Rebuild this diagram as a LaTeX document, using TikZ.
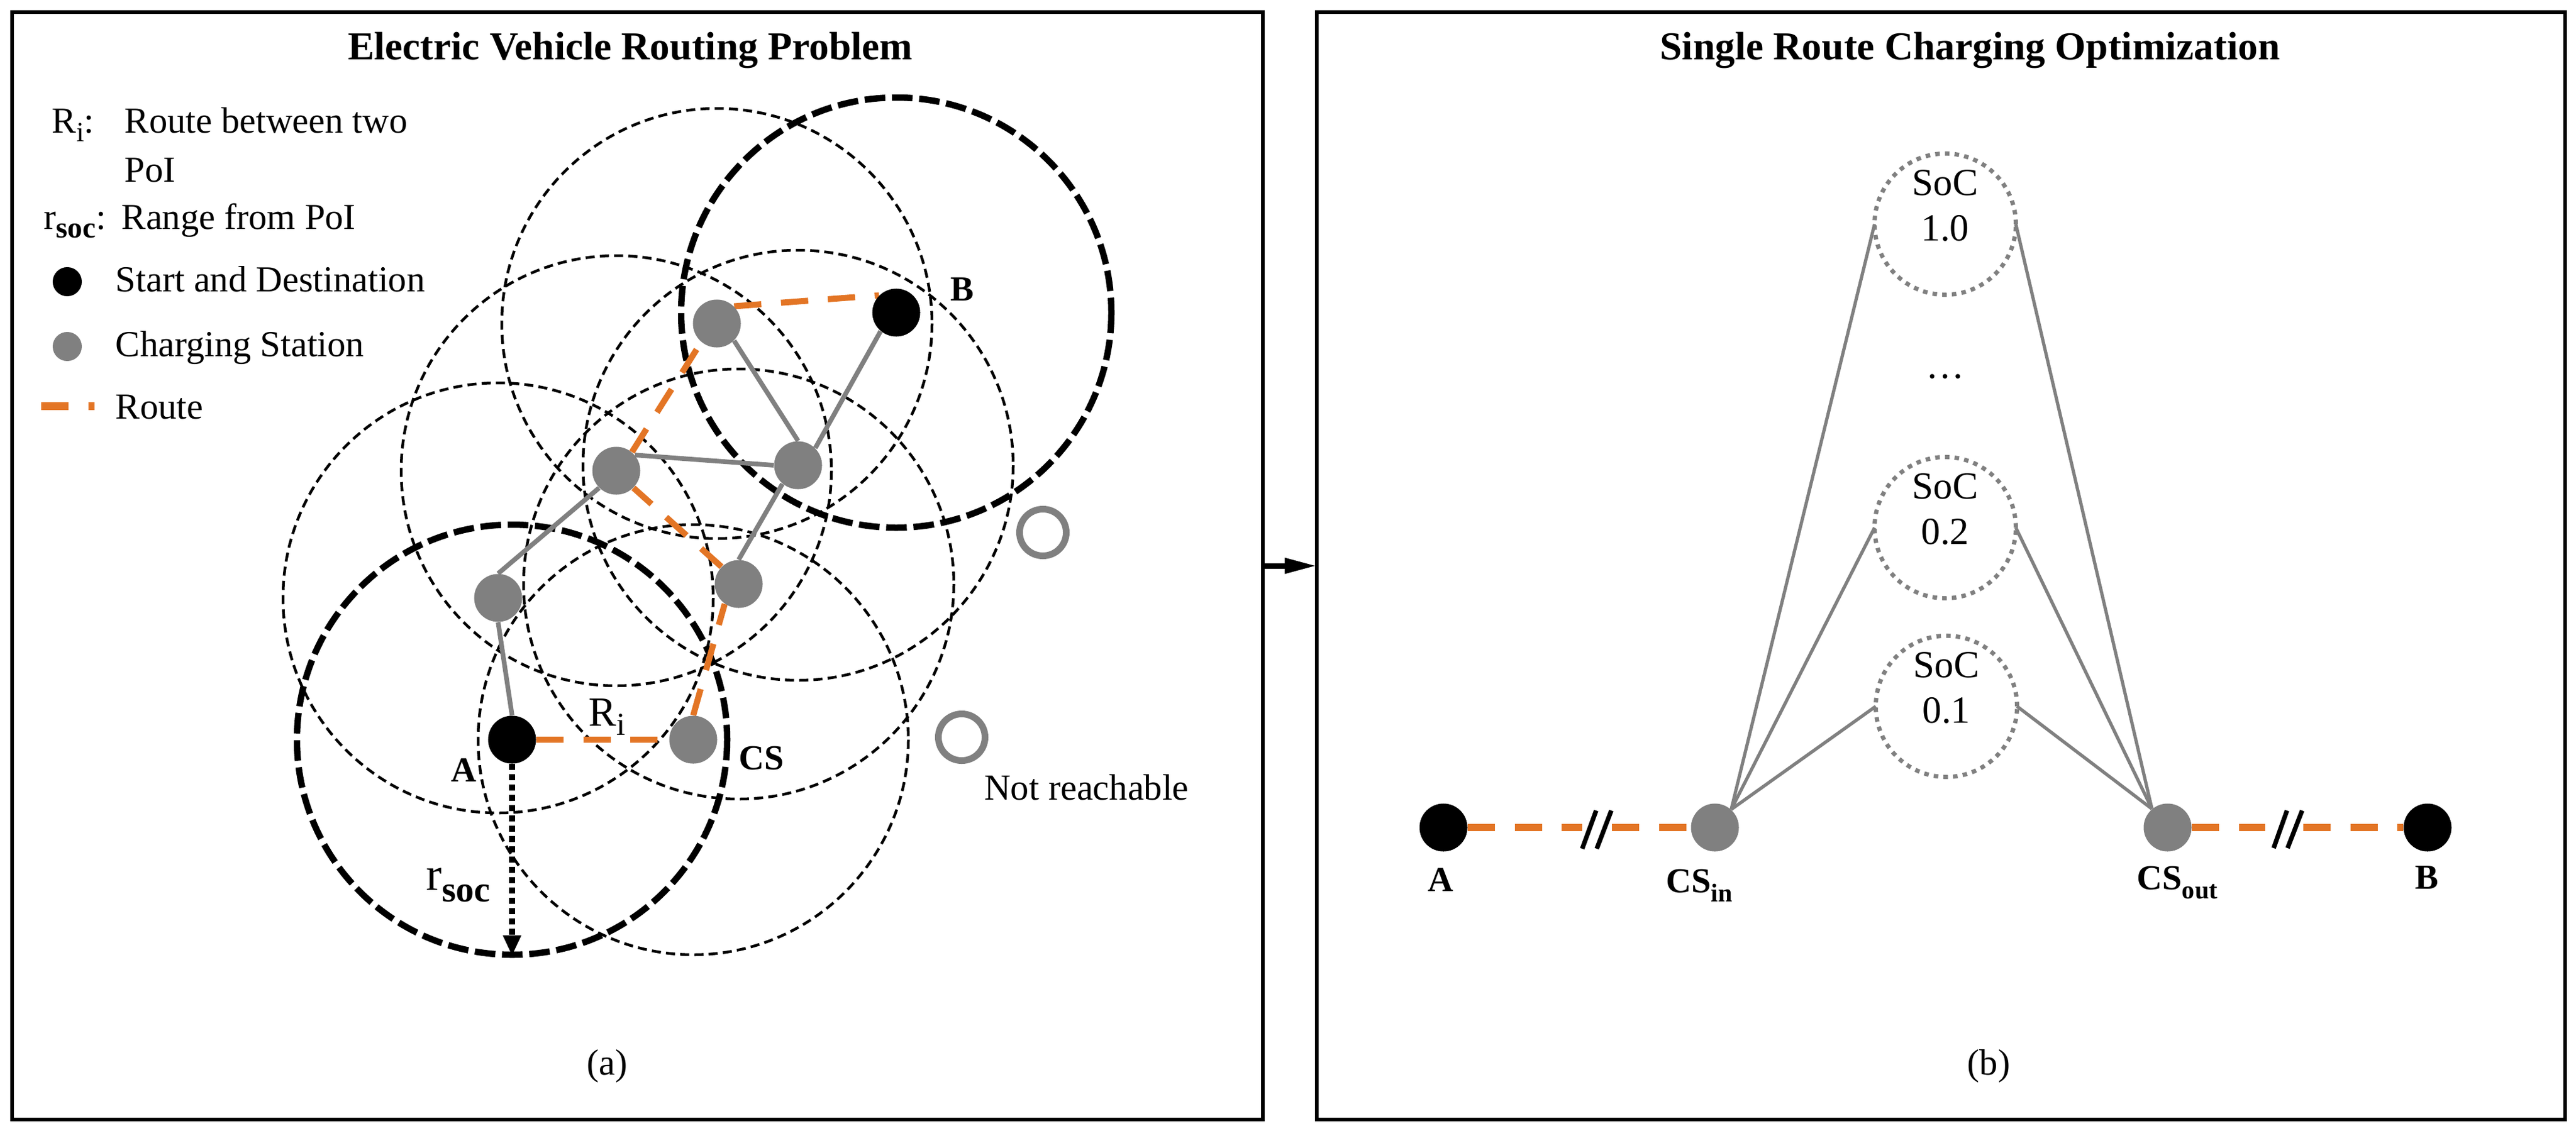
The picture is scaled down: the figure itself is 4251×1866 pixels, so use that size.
\documentclass[tikz,border=0pt]{standalone}
\usepackage{fontspec}
\setmainfont{Liberation Serif}
\usetikzlibrary{arrows.meta,calc,backgrounds}
\definecolor{routeorange}{RGB}{227,117,37}
\definecolor{csgray}{RGB}{128,128,128}
\newcommand{\sizeat}[1]{\fontsize{#1}{#1}\selectfont}
\begin{document}
\begin{tikzpicture}[x=0.01cm,y=-0.01cm,
 panel/.style={draw=black,line width=0.06cm,inner sep=0pt,outer sep=0pt},
 flow/.style={line width=0.09cm,-{Triangle[length=0.53cm,width=0.24cm]}},
 thinring/.style={draw=black,line width=0.045cm,dash pattern=on 0.15cm off 0.085cm},
 thickring/.style={draw=black,line width=0.105cm,dash pattern=on 0.34cm off 0.11cm},
 poi/.style={circle,fill=black,inner sep=0pt,minimum size=0.79cm},
 station/.style={circle,fill=csgray,inner sep=0pt,minimum size=0.79cm},
 keydot/.style={circle,inner sep=0pt,minimum size=0.48cm},
 link/.style={draw=csgray,line width=0.077cm},
 route/.style={draw=routeorange,line width=0.10cm,dash pattern=on 0.45cm off 0.325cm},
 routeb/.style={route,line width=0.12cm},
 socnode/.style={circle,draw=csgray,line width=0.07cm,dash pattern=on 0.075cm off 0.085cm,minimum size=2.33cm,inner sep=0pt,outer sep=0pt},
 soclink/.style={draw=csgray,line width=0.054cm},
 brk/.style={draw=black,line width=0.075cm},
 unreach/.style={circle,draw=csgray,line width=0.11cm,minimum size=0.77cm,inner sep=0pt},
 rsoc/.style={draw=black,line width=0.105cm,dash pattern=on 0.1cm off 0.07cm,-{Triangle[length=0.34cm,width=0.28cm]}},
 txt/.style={font=\sizeat{17.2pt},inner sep=0pt},
 soctxt/.style={font=\sizeat{18pt},inner sep=0pt,anchor=base},
 lbl/.style={font=\sizeat{16.5pt}\bfseries,inner sep=0pt,anchor=base},
 ttl/.style={font=\sizeat{18.6pt}\bfseries,inner sep=0pt,anchor=base}
]
\useasboundingbox (0,0) rectangle (4251,1866);

% panels
\node[panel,minimum width=20.635cm,minimum height=18.265cm] (pa) at (1052,934) {};
\node[panel,minimum width=20.585cm,minimum height=18.265cm] (pb) at (3203,934) {};
\draw[flow] (pa.east) -- (pb.west);

% titles
\node[ttl] (t1) at (1040,98) {Electric Vehicle Routing Problem};
\node[ttl] (t2) at (3251,98) {Single Route Charging Optimization};

% legend
\node[txt,anchor=base west] (kR) at (85,219) {R\raisebox{-4pt}{\sizeat{13pt}i}:};
\node[txt,anchor=base west] (kRt) at (205,219) {Route between two};
\node[txt,anchor=base west] (kRt2) at (205,300) {PoI};
\node[txt,anchor=base west] (kr) at (72,378) {r\raisebox{-4pt}{\sizeat{14pt}\bfseries soc}:};
\node[txt,anchor=base west] (krt) at (200,378) {Range from PoI};
\node[keydot,fill=black] (kd1) at (111,465) {};
\node[txt,anchor=base west] (kd1t) at (190,481) {Start and Destination};
\node[keydot,fill=csgray] (kd2) at (111,572) {};
\node[txt,anchor=base west] (kd2t) at (190,588) {Charging Station};
\coordinate (kl1) at (68,670);
\coordinate (kl2) at (156,670);
\draw[route,line width=0.13cm] (kl1) -- (kl2);
\node[txt,anchor=base west] (klt) at (190,691) {Route};

% panel (a) positions
\coordinate (pA) at (845,1221);
\coordinate (pCS) at (1144,1221);
\coordinate (pLG) at (822,987);
\coordinate (pCL) at (1017,777);
\coordinate (pTG) at (1183,534);
\coordinate (pB) at (1479,516);
\coordinate (pRG) at (1317,768);
\coordinate (pLR) at (1219,964);

\node[poi] (A) at (pA) {};
\node[station] (CS) at (pCS) {};
\node[station] (lg) at (pLG) {};
\node[station] (cl) at (pCL) {};
\node[station] (tg) at (pTG) {};
\node[poi] (B) at (pB) {};
\node[station] (rg) at (pRG) {};
\node[station] (lr) at (pLR) {};

\node[unreach] (u1) at (1721,879) {};
\node[unreach] (u2) at (1587,1217) {};

\begin{pgfonlayer}{background}
\foreach \p in {pCS,pLG,pCL,pTG,pRG,pLR} \draw[thinring] (\p) circle[radius=355];
\foreach \p in {pA,pB} \draw[thickring] (\p) circle[radius=355];
\draw[link] (A.north) -- (lg.south);
\draw[link] (lg.north) -- (cl.225);
\draw[link] (cl.40) -- (rg.west);
\draw[link] (tg.-45) -- (rg.north);
\draw[link] (rg.45) -- (B.230);
\draw[link] (rg.230) -- (lr.north);
\draw[route] (A.east) -- (CS.west);
\draw[route] (CS.north) -- (lr.235);
\draw[route] (lr.135) -- (cl.-45);
\draw[route] (cl.50) -- (tg.230);
\draw[route] (tg.45) -- (B.135);
\end{pgfonlayer}

\coordinate (rsocend) at (845,1578);
\draw[rsoc] (A.south) -- (rsocend);

% panel (a) labels
\node[lbl] (lA) at (765,1290) {A};
\node[lbl] (lCS) at (1257,1270) {CS};
\node[lbl] (lB) at (1588,496) {B};
\node[txt,anchor=base west,font=\sizeat{19.5pt}] (lRi) at (971,1198) {R\raisebox{-4.5pt}{\sizeat{15pt}i}};
\node[txt,anchor=base west,font=\sizeat{22pt}] (lrs) at (703,1469) {r\raisebox{-5.5pt}{\sizeat{17pt}\bfseries soc}};
\node[txt,anchor=base] (lnr) at (1793,1320) {Not reachable};
\node[txt] (la) at (1002,1760) {(a)};

% panel (b)
\node[poi] (Ab) at (2382,1366) {};
\node[station] (CSin) at (2830,1366) {};
\node[station] (CSout) at (3577,1366) {};
\node[poi] (Bb) at (4006,1366) {};
\node[socnode] (s10) at (3210,370) {};
\node[socnode] (s02) at (3210,871) {};
\node[socnode] (s01) at (3212,1166) {};
\node[soctxt] (s10a) at ($(s10)+(0,-48)$) {SoC};
\node[soctxt] (s10b) at ($(s10)+(0,27)$) {1.0};
\node[soctxt] (s02a) at ($(s02)+(0,-48)$) {SoC};
\node[soctxt] (s02b) at ($(s02)+(0,27)$) {0.2};
\node[soctxt] (s01a) at ($(s01)+(0,-48)$) {SoC};
\node[soctxt] (s01b) at ($(s01)+(0,27)$) {0.1};
\node[soctxt] (dots) at (3210,624) {…};

\coordinate (g1a) at (2611,1366);
\coordinate (g1b) at (2660,1366);
\coordinate (g2a) at (3738,1366);
\coordinate (g2b) at (3801,1366);

\begin{pgfonlayer}{background}
\foreach \s in {s10,s02,s01} \draw[soclink] (CSin.48) -- (\s.west);
\foreach \s in {s10,s02,s01} \draw[soclink] (CSout.130) -- (\s.east);
\draw[routeb] (Ab.east) -- (g1a);
\draw[routeb] (g1b) -- (CSin.west);
\draw[routeb] (CSout.east) -- (g2a);
\draw[routeb] (g2b) -- (Bb.west);
\end{pgfonlayer}

\draw[brk] (2611,1401) -- (2634,1338);
\draw[brk] (2635,1401) -- (2659,1338);
\draw[brk] (3752,1400) -- (3774,1338);
\draw[brk] (3775,1400) -- (3799,1338);

\node[lbl] (lAb) at (2377,1471) {A};
\node[lbl,anchor=base west] (lCSin) at (2749,1473) {CS\raisebox{-4.5pt}{\sizeat{12pt}\bfseries in}};
\node[lbl,anchor=base west] (lCSout) at (3526,1468) {CS\raisebox{-4.3pt}{\sizeat{12pt}\bfseries out}};
\node[lbl] (lBb) at (4005,1467) {B};
\node[txt] (lb) at (3282,1760) {(b)};
\end{tikzpicture}
\end{document}
